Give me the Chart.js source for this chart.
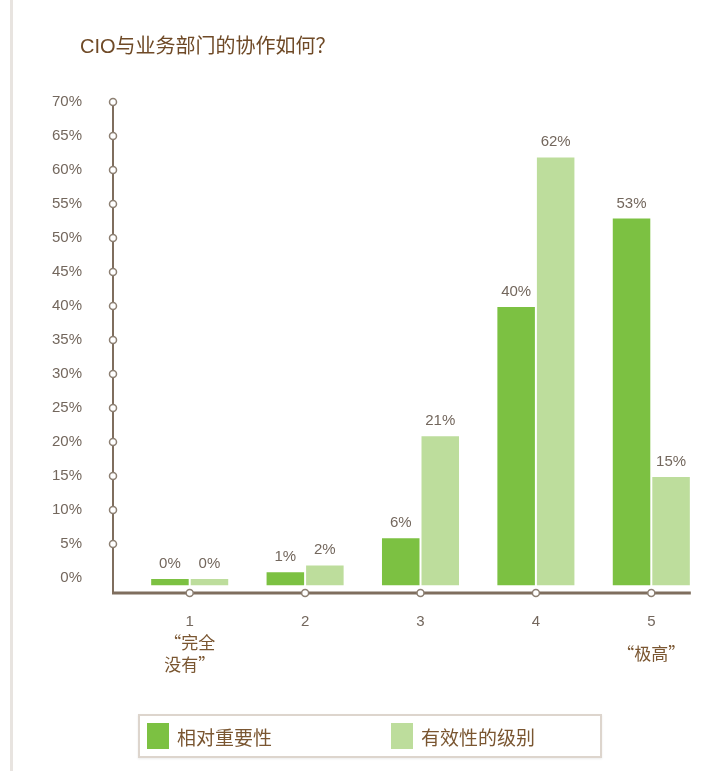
<!DOCTYPE html>
<html lang="zh-CN">
<head>
<meta charset="utf-8">
<title>CIO与业务部门的协作如何？</title>
<script src="https://cdn.jsdelivr.net/npm/chart.js@4.4.1/dist/chart.umd.min.js"></script>
<style>
  html, body { margin: 0; background: #fff; }
  #wrap { position: relative; width: 709px; height: 771px; }
  /* 左侧页框细线 */
  #wrap::before {
    content: ''; position: absolute; left: 10px; top: 0; bottom: 0;
    width: 3px; background: #e8e4e0;
  }
  #legend {
    position: absolute; left: 138px; top: 714px; width: 460px; height: 40px;
    border: 2px solid #ddd5cd; box-shadow: 0 1px 2px rgba(0,0,0,.08);
    font-family: "Noto Sans CJK SC", sans-serif; font-size: 19px; color: #7a5631;
  }
  #legend .item { position: absolute; top: 7px; display: flex; align-items: center; height: 26px; }
  #legend .swatch { width: 22px; height: 26px; margin-right: 8px; }
</style>
</head>
<body>
<div id="wrap">
  <canvas id="chart"></canvas>
  <div id="legend"></div>
</div>
<script>
// ─── 数据 ───────────────────────────────────────────────
const title          = 'CIO与业务部门的协作如何？';
const categories     = ['1', '2', '3', '4', '5'];
const categoryNotes  = [['“完全', '没有”'], [], [], [], ['“极高”']];
const seriesNames    = ['相对重要性', '有效性的级别'];
const importance     = [0, 1, 6, 40, 53];
const effectiveness  = [0, 2, 21, 62, 15];
const yTicks         = [0, 5, 10, 15, 20, 25, 30, 35, 40, 45, 50, 55, 60, 65, 70];

// ─── 样式 ───────────────────────────────────────────────
const DARK_GREEN  = '#7cc142';
const LIGHT_GREEN = '#bddd9c';
const AXIS_COLOR  = '#7f6e5e';
const TICK_COLOR  = '#73675d';
const NOTE_COLOR  = '#7a5631';
const NUM_FONT    = '"Liberation Sans", Arial, sans-serif';
const CJK_FONT    = '"Noto Sans CJK SC", sans-serif';

// 坐标轴：棕色轴线 + 刻度处的空心小圆点，另绘标题与类别注释
const axisDecor = {
  id: 'axisDecor',
  afterDraw(chart) {
    const { ctx, chartArea, scales: { x, y } } = chart;
    const axisX  = chartArea.left - 19;
    const bottom = chartArea.bottom;
    const last   = chart.getDatasetMeta(chart.data.datasets.length - 1).data.at(-1);
    const right  = last.x + last.width / 2;

    ctx.save();
    ctx.strokeStyle = AXIS_COLOR;
    ctx.lineWidth = 2;
    ctx.beginPath();
    ctx.moveTo(axisX, y.getPixelForValue(yTicks.at(-1)));
    ctx.lineTo(axisX, bottom);
    ctx.stroke();

    ctx.lineWidth = 3;
    ctx.beginPath();
    ctx.moveTo(axisX - 1, bottom);
    ctx.lineTo(right, bottom);
    ctx.stroke();

    const dot = (cx, cy) => {
      ctx.beginPath();
      ctx.arc(cx, cy, 3.5, 0, Math.PI * 2);
      ctx.fillStyle = '#fff';
      ctx.fill();
      ctx.lineWidth = 1.5;
      ctx.strokeStyle = '#8c7f72';
      ctx.stroke();
    };
    yTicks.filter(v => v > 0).forEach(v => dot(axisX, y.getPixelForValue(v)));
    categories.forEach((_, i) => dot(x.getPixelForValue(i), bottom));

    // 类别下方的中文注释
    ctx.font = `17px ${CJK_FONT}`;
    ctx.fillStyle = NOTE_COLOR;
    ctx.textAlign = 'center';
    ctx.textBaseline = 'middle';
    categoryNotes.forEach((lines, i) => {
      lines.forEach((t, k) => {
        const cy = bottom + 61 + (k - (lines.length - 1) / 2) * 22;
        ctx.fillText(t, x.getPixelForValue(i), cy);
      });
    });

    // 标题
    ctx.textAlign = 'left';
    ctx.textBaseline = 'alphabetic';
    ctx.font = `20px "Liberation Sans", ${CJK_FONT}`;
    ctx.fillStyle = '#6f4a27';
    ctx.fillText(title, 80, 53);
    ctx.restore();
  }
};

// 柱顶数值标签
const valueLabels = {
  id: 'valueLabels',
  afterDatasetsDraw(chart) {
    const { ctx } = chart;
    ctx.save();
    ctx.font = `15px ${NUM_FONT}`;
    ctx.fillStyle = TICK_COLOR;
    ctx.textAlign = 'center';
    ctx.textBaseline = 'alphabetic';
    chart.data.datasets.forEach((ds, i) => {
      chart.getDatasetMeta(i).data.forEach((bar, j) => {
        ctx.fillText(ds.data[j] + '%', bar.x, bar.y - 10);
      });
    });
    ctx.restore();
  }
};

// 柱子从略低于 0 的位置起画，0% 也留出一小段
const barStyle = {
  base: -1.2,
  borderColor: 'rgba(255,255,255,0.85)',
  borderWidth: 1,
  borderSkipped: false,
  barPercentage: 1,
  categoryPercentage: 0.685,
};

const chart = new Chart(document.getElementById('chart'), {
  type: 'bar',
  data: {
    labels: categories,
    datasets: [
      { label: seriesNames[0], data: importance,    backgroundColor: DARK_GREEN,  ...barStyle },
      { label: seriesNames[1], data: effectiveness, backgroundColor: LIGHT_GREEN, ...barStyle },
    ],
  },
  options: {
    responsive: true,
    maintainAspectRatio: false,
    animation: false,
    devicePixelRatio: 1,
    layout: { padding: { top: 102, left: 0, right: 0, bottom: 0 } },
    plugins: {
      legend: { display: false },
      tooltip: { enabled: false },
    },
    scales: {
      x: {
        grid: { display: false, drawTicks: false },
        border: { display: false },
        ticks: { padding: 20, color: TICK_COLOR, font: { family: NUM_FONT, size: 15 } },
        afterFit: s => { s.height = 178; },
      },
      y: {
        min: -2.2,
        max: 70,
        grid: { display: false, drawTicks: false },
        border: { display: false },
        ticks: {
          padding: 50,
          color: TICK_COLOR,
          font: { family: NUM_FONT, size: 15 },
          callback: v => v + '%',
        },
        afterBuildTicks: s => { s.ticks = yTicks.map(v => ({ value: v })); },
        afterFit: s => { s.width = 132; },
      },
    },
  },
  plugins: [valueLabels, axisDecor],
});

// HTML 图例
const legendEl = document.getElementById('legend');
chart.data.datasets.forEach((ds, i) => {
  const item = document.createElement('div');
  item.className = 'item';
  item.style.left = (7 + i * 244) + 'px';
  item.innerHTML = `<span class="swatch" style="background:${ds.backgroundColor}"></span><span>${ds.label}</span>`;
  legendEl.appendChild(item);
});
</script>
</body>
</html>
